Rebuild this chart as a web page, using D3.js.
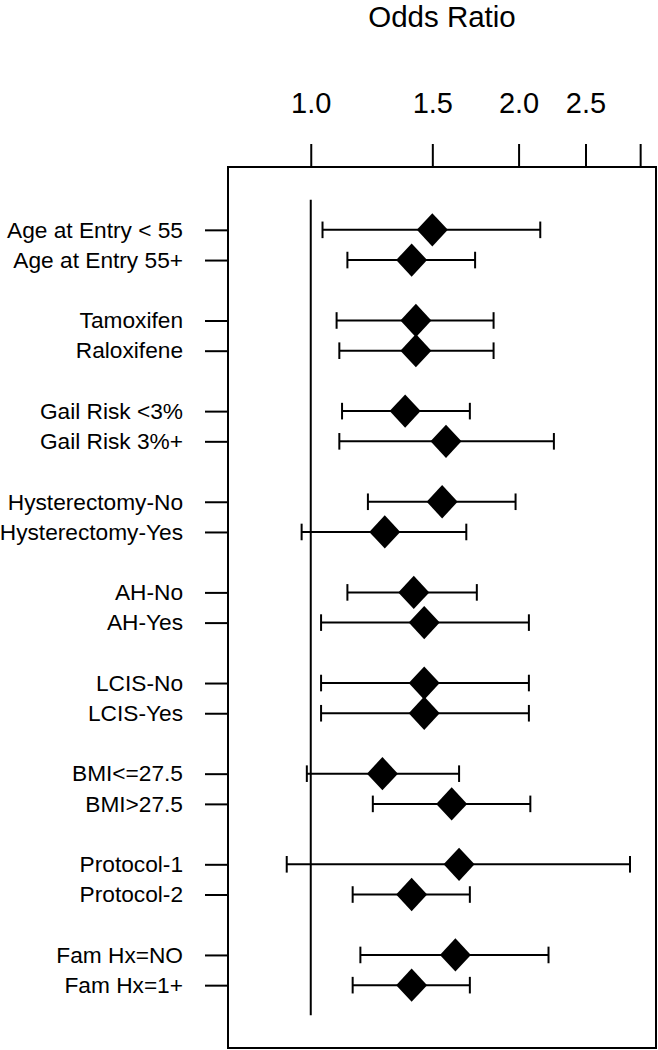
<!DOCTYPE html>
<html>
<head>
<meta charset="utf-8">
<script src="https://cdn.jsdelivr.net/npm/d3@7"></script>
<style>
  html, body { margin: 0; padding: 0; background: #fff; }
  svg { display: block; }
  text { font-family: "Liberation Sans", Arial, Helvetica, sans-serif; fill: #000; }
</style>
</head>
<body>
<div id="chart"></div>
<script>
// ---- data ----
const labels = [
  "Age at Entry < 55", "Age at Entry 55+",
  "Tamoxifen", "Raloxifene",
  "Gail Risk <3%", "Gail Risk 3%+",
  "Hysterectomy-No", "Hysterectomy-Yes",
  "AH-No", "AH-Yes",
  "LCIS-No", "LCIS-Yes",
  "BMI<=27.5", "BMI>27.5",
  "Protocol-1", "Protocol-2",
  "Fam Hx=NO", "Fam Hx=1+"
];
const oddsRatio = [1.50, 1.40, 1.42, 1.42, 1.37, 1.57, 1.55, 1.28, 1.41, 1.46, 1.46, 1.46, 1.27, 1.60, 1.64, 1.40, 1.62, 1.40];
const lowerCI   = [1.04, 1.13, 1.09, 1.10, 1.11, 1.10, 1.21, 0.97, 1.13, 1.035, 1.035, 1.035, 0.987, 1.23, 0.923, 1.15, 1.18, 1.15];
const upperCI   = [2.15, 1.73, 1.84, 1.84, 1.70, 2.25, 1.98, 1.68, 1.74, 2.07, 2.07, 2.07, 1.64, 2.08, 2.90, 1.70, 2.21, 1.70];
const rowIndex  = [0, 1, 3, 4, 6, 7, 9, 10, 12, 13, 15, 16, 18, 19, 21, 22, 24, 25];
const xTickValues = [1.0, 1.5, 2.0, 2.5, 3.0];
const xTickLabels = ["1.0", "1.5", "2.0", "2.5", ""];
const xLimits = [0.8, 3.0];
const yLimits = [-1, 26];
const refValue = 1.0;
const xTitle = "Odds Ratio";

// ---- layout ----
const W = 658, H = 1050;
const box = { left: 228, right: 656, top: 167, bottom: 1048 };
const pad = 0.04;
const lx0 = Math.log(xLimits[0]), lx1 = Math.log(xLimits[1]);
const ldx = (lx1 - lx0) * pad;
const dy = (yLimits[1] - yLimits[0]) * pad;

const x = d3.scaleLog()
  .domain([Math.exp(lx0 - ldx), Math.exp(lx1 + ldx)])
  .range([box.left, box.right]);
const y = d3.scaleLinear()
  .domain([yLimits[0] - dy, yLimits[1] + dy])
  .range([box.top, box.bottom]);

const svg = d3.select("#chart").append("svg")
  .attr("width", W).attr("height", H);

const lw = 2;

// frame
svg.append("rect")
  .attr("x", box.left).attr("y", box.top)
  .attr("width", box.right - box.left).attr("height", box.bottom - box.top)
  .attr("fill", "none").attr("stroke", "#000").attr("stroke-width", lw);

// top axis
const gx = svg.append("g")
  .attr("transform", `translate(0,${box.top})`)
  .call(d3.axisTop(x)
    .tickValues(xTickValues)
    .tickFormat((d, i) => xTickLabels[i])
    .tickSize(23)
    .tickPadding(31));
gx.select(".domain").remove();
gx.selectAll(".tick line").attr("stroke", "#000").attr("stroke-width", lw);
gx.selectAll(".tick text").attr("font-size", 29).attr("font-family", null);

// left axis
const gy = svg.append("g")
  .attr("transform", `translate(${box.left},0)`)
  .call(d3.axisLeft(y)
    .tickValues(rowIndex)
    .tickFormat((d, i) => labels[i])
    .tickSize(23)
    .tickPadding(22));
gy.select(".domain").remove();
gy.selectAll(".tick line").attr("stroke", "#000").attr("stroke-width", lw);
gy.selectAll(".tick text").attr("font-size", 22.7).attr("font-family", null);

// title
svg.append("text")
  .attr("x", (box.left + box.right) / 2)
  .attr("y", 27)
  .attr("text-anchor", "middle")
  .attr("font-size", 29.5)
  .text(xTitle);

// reference line
svg.append("line")
  .attr("x1", x(refValue)).attr("x2", x(refValue))
  .attr("y1", y(yLimits[0])).attr("y2", y(yLimits[1]))
  .attr("stroke", "#000").attr("stroke-width", lw);

const rows = labels.map((l, i) => ({ label: l, or: oddsRatio[i], lo: lowerCI[i], hi: upperCI[i], idx: rowIndex[i] }));

const g = svg.append("g");
const capH = 8.3;
rows.forEach(d => {
  const yy = y(d.idx);
  g.append("line")
    .attr("x1", x(d.lo)).attr("x2", x(d.hi))
    .attr("y1", yy).attr("y2", yy)
    .attr("stroke", "#000").attr("stroke-width", lw);
  [d.lo, d.hi].forEach(v => {
    g.append("line")
      .attr("x1", x(v)).attr("x2", x(v))
      .attr("y1", yy - capH).attr("y2", yy + capH)
      .attr("stroke", "#000").attr("stroke-width", lw);
  });
});

const diamond = d3.symbol().type(d3.symbolSquare).size(480);
g.selectAll("path.pt")
  .data(rows)
  .join("path")
  .attr("class", "pt")
  .attr("d", diamond)
  .attr("transform", d => `translate(${x(d.or)},${y(d.idx)}) scale(1,1.075) rotate(45)`)
  .attr("fill", "#000");
</script>
</body>
</html>
